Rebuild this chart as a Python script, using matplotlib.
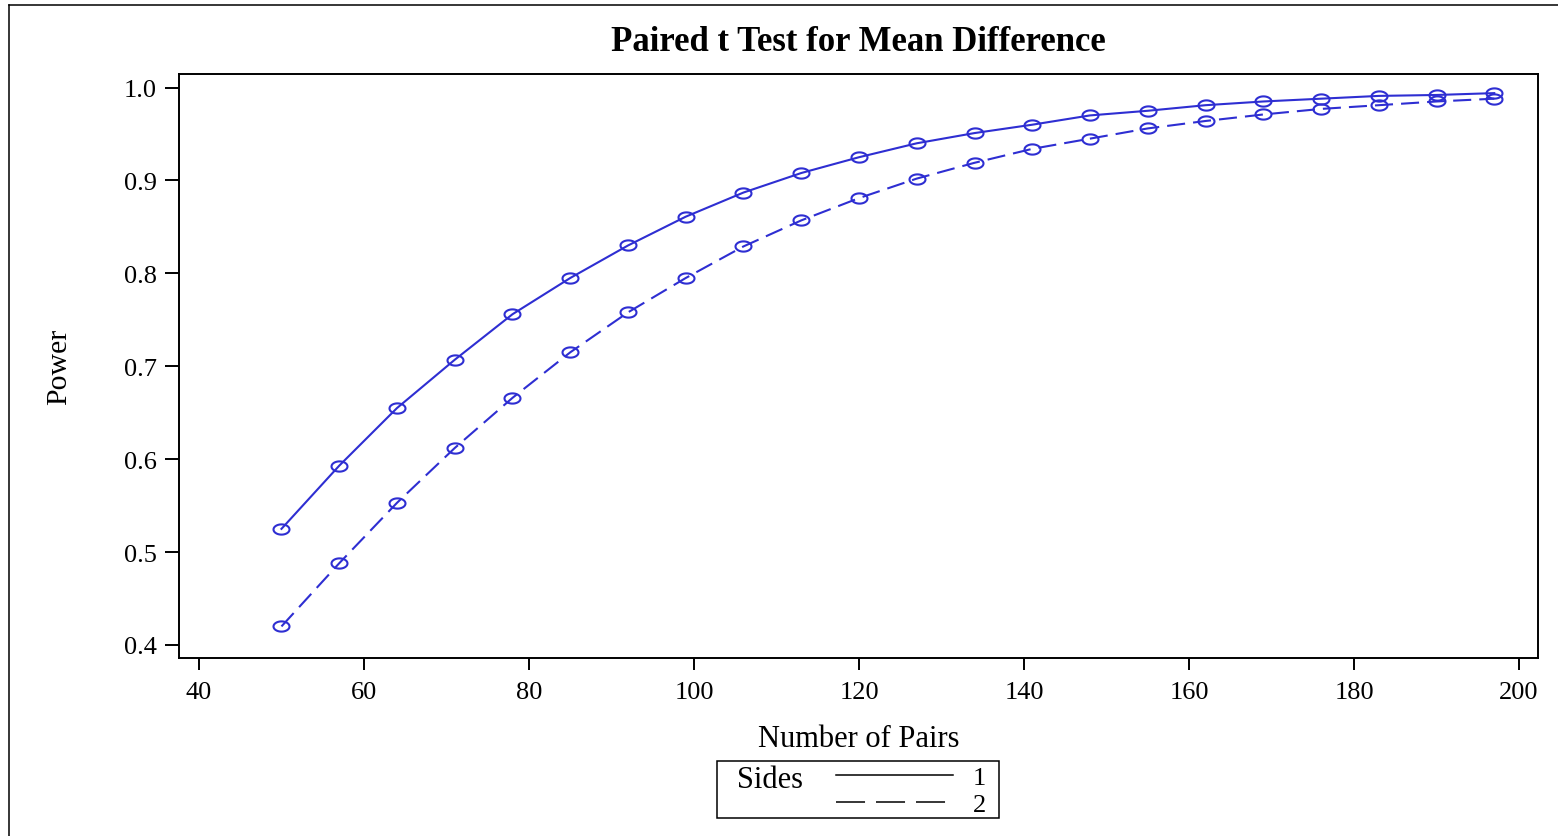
import numpy as np
import matplotlib
matplotlib.use("Agg")
import matplotlib.pyplot as plt
from matplotlib.lines import Line2D
from matplotlib.patches import Rectangle
from matplotlib.path import Path

pairs = [50, 57, 64, 71, 78, 85, 92, 99, 106, 113, 120, 127, 134, 141, 148,
         155, 162, 169, 176, 183, 190, 197]
power_1side = [0.525, 0.593, 0.655, 0.707, 0.756, 0.795, 0.830, 0.861, 0.887,
               0.908, 0.925, 0.940, 0.951, 0.960, 0.970, 0.975, 0.981, 0.985,
               0.988, 0.991, 0.992, 0.994]
power_2side = [0.420, 0.488, 0.553, 0.612, 0.666, 0.715, 0.758, 0.795, 0.829,
               0.857, 0.881, 0.902, 0.919, 0.934, 0.945, 0.956, 0.964, 0.971,
               0.977, 0.981, 0.985, 0.988]
sides = ["1", "2"]
xticks = [40, 60, 80, 100, 120, 140, 160, 180, 200]
yticks = [0.4, 0.5, 0.6, 0.7, 0.8, 0.9, 1.0]

plt.rcParams["font.family"] = ["Liberation Serif", "DejaVu Serif"]
plt.rcParams["lines.scale_dashes"] = False

blue = "#2E2ED2"

# flattened circle marker like the SAS output
t = np.linspace(0, 2 * np.pi, 60)
ellipse = Path(np.column_stack([np.cos(t), 0.64 * np.sin(t)]), closed=True)

W, H = 1558, 837
fig = plt.figure(figsize=(W / 100, H / 100), dpi=100)
ax = fig.add_axes([179 / W, 1 - 659 / H, (1538 - 179) / W, (659 - 74.7) / H])

ax.plot(pairs, power_1side, color=blue, lw=1.5, marker=ellipse, markersize=11.5,
        markerfacecolor="none", markeredgecolor=blue, markeredgewidth=1.5)
ax.plot(pairs, power_2side, color=blue, lw=1.5, ls=(0, (13, 5.8)), marker=ellipse,
        markersize=11.5, markerfacecolor="none", markeredgecolor=blue,
        markeredgewidth=1.5)

ax.set_xlim(37.58, 202.3)
ax.set_ylim(0.386, 1.0149)
ax.set_xticks(xticks)
ax.set_yticks(yticks)
ax.set_xticklabels([str(v) for v in xticks])
ax.set_yticklabels(["%.1f" % v for v in yticks])
ax.tick_params(axis="x", direction="out", length=8.5, width=1.4, pad=8, labelsize=19)
ax.tick_params(axis="y", direction="out", length=10, width=1.4, pad=6, labelsize=19)
for s in ax.spines.values():
    s.set_linewidth(1.4)

ax.set_title("Paired t Test for Mean Difference", fontsize=25,
             fontweight="bold", pad=17)
ax.set_xlabel("Number of Pairs", fontsize=22)
ax.xaxis.label.set_va("center")
ax.xaxis.set_label_coords(0.5, -0.137)
ax.set_ylabel("Power", fontsize=21.5)
ax.yaxis.label.set_va("center")
ax.yaxis.set_label_coords(-0.0883, 0.5)

# legend box at the bottom
fig.add_artist(Rectangle((717 / W, 1 - 819 / H), 282 / W, 57 / H,
                         transform=fig.transFigure, fill=False, lw=1.1,
                         edgecolor="black"))
fig.text(737 / W, 1 - 781 / H, "Sides", fontsize=22, va="center", ha="left")
handles = [Line2D([], [], color="black", lw=1.1),
           Line2D([], [], color="black", lw=1.1, ls=(0, (20.9, 7.9)))]
fig.legend(handles, sides, loc="center", bbox_to_anchor=(911 / W, 1 - 792 / H),
           frameon=False, fontsize=19, borderpad=0, handlelength=4.45,
           handletextpad=0.75, labelspacing=0.12)

# outer frame (left and top edges)
fig.add_artist(Line2D([8.5 / W, 8.5 / W], [0, 1 - 5.5 / H],
                      transform=fig.transFigure, color="black", lw=1.1))
fig.add_artist(Line2D([8.5 / W, 1], [1 - 5.5 / H, 1 - 5.5 / H],
                      transform=fig.transFigure, color="black", lw=1.1))

fig.savefig("out.png", dpi=100)
